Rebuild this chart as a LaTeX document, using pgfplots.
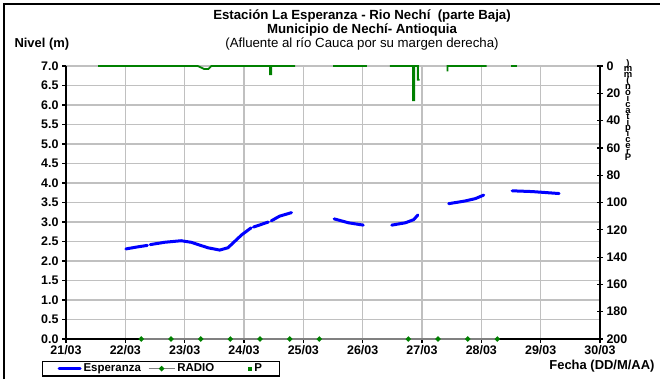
\documentclass[border=0pt]{standalone}
\usepackage{pgfplots}
\pgfplotsset{compat=1.18}
\usepackage{fontspec}
\setmainfont{Liberation Sans}
\definecolor{pgreen}{RGB}{0,128,0}
\definecolor{gridgray}{RGB}{192,192,192}
\definecolor{radiogray}{RGB}{128,128,128}
\definecolor{eblue}{RGB}{0,0,255}
\newcommand\stl[1]{\hbox to 10bp{\hss#1\hss}}
\begin{document}
\begin{tikzpicture}[x=1bp,y=1bp]
\path[use as bounding box] (0,0) rectangle (660,379);
\draw[line width=2bp] (4,0) -- (4,375) -- (660,375);
% titles
\node[font=\bfseries\fontsize{13.3}{14}\selectfont] at (362,363) {Estación La Esperanza - Rio Nechí\ \ (parte Baja)};
\node[font=\bfseries\fontsize{13.3}{14}\selectfont] at (362,349) {Municipio de Nechí- Antioquia};
\node[font=\fontsize{13.3}{14}\selectfont] at (362,335) {(Afluente al río Cauca por su margen derecha)};
\node[font=\bfseries\fontsize{13}{14}\selectfont, anchor=west] at (11,335) {Nivel (m)};
\node[font=\bfseries\fontsize{13}{14}\selectfont, anchor=east] at (658,13) {Fecha (DD/M/AA)};
\node[anchor=north, font=\bfseries\fontsize{9.5}{6}\selectfont, inner sep=0] at (628,320) {\vbox{\baselineskip=5.9bp\lineskiplimit=-100bp\lineskip=0bp
\stl{)}\stl{m}\stl{m}\stl{(}\stl{n}\stl{ó}\stl{i}\stl{c}\stl{a}\stl{t}\stl{i}\stl{p}\stl{i}\stl{c}\stl{e}\stl{r}\stl{P}}};

\begin{axis}[
  at={(66bp,40bp)}, anchor=south west,
  width=534bp, height=273bp, scale only axis,
  xmin=21, xmax=30, ymin=0, ymax=7,
  clip=false,
  axis x line*=bottom, axis y line*=left,
  axis line style={line width=1.3bp, black},
  xtick={21,22,...,30},
  xticklabels={21/03,22/03,23/03,24/03,25/03,26/03,27/03,28/03,29/03,30/03},
  ytick={0,0.5,...,7},
  grid=major, major grid style={gridgray, line width=1.3bp},
  tick align=outside, major tick length=4bp,
  tick style={black, line width=1.2bp},
  tick label style={font=\bfseries\fontsize{12.5}{13}\selectfont},
  xticklabel style={yshift=1bp},
  yticklabel style={/pgf/number format/fixed, /pgf/number format/fixed zerofill, /pgf/number format/precision=1},
  /pgf/number format/assume math mode=true,
  unbounded coords=jump,
  legend columns=3,
  legend cell align=left,
  legend style={at={(rel axis cs:-0.045,-0.08)}, anchor=north west, draw=black, line width=1.2bp,
    font=\bfseries\fontsize{11.5}{12}\selectfont, inner xsep=15bp, inner ysep=0.5bp,
    /tikz/column 2/.style={column sep=5bp},
    /tikz/column 4/.style={column sep=32bp}},
]
\addplot[eblue, line width=3bp, line cap=round, legend image code/.code={\draw[eblue, line width=3bp] (0bp,0bp) -- (21bp,0bp);}] coordinates {
(22.01,2.31)(22.20,2.36)(22.37,2.40) (22.39,nan) (22.42,2.42)(22.66,2.48)(22.94,2.52)(23.11,2.48)(23.39,2.34)(23.59,2.28)(23.73,2.34)(23.96,2.67)(24.12,2.85) (24.13,nan) (24.16,2.87)(24.41,3.00) (24.43,nan) (24.46,3.03)(24.60,3.15)(24.80,3.24)
(25.1,nan)
(25.52,3.08)(25.76,2.98)(26.01,2.92)
(26.2,nan)
(26.49,2.92)(26.72,2.98)(26.86,3.06)(26.93,3.18)
(27.2,nan)
(27.45,3.47)(27.73,3.54)(27.90,3.60)(28.04,3.69)
(28.3,nan)
(28.52,3.80)(28.86,3.78)(29.31,3.73)
};
\addlegendentry{Esperanza}
\addplot[radiogray, line width=1.5bp, mark=*, mark size=1.8bp, mark options={pgreen, draw=pgreen, fill=pgreen}, legend image code/.code={\draw[radiogray, line width=1.5bp] (0bp,0bp) -- (26bp,0bp); \fill[pgreen] (13bp,0bp) circle (1.8bp);}] coordinates {
(22.27,0)(22.77,0)(23.27,0)(23.77,0)(24.27,0)(24.77,0)(25.27,0)(26.77,0)(27.27,0)(27.77,0)(28.27,0)
};
\addlegendentry{RADIO}
\addlegendimage{only marks, mark=square*, mark size=1.5bp, pgreen, legend image code/.code={\fill[pgreen] (6bp,-1.5bp) rectangle (9bp,1.5bp);}}
\addlegendentry{P}
\end{axis}

\begin{axis}[
  at={(66bp,40bp)}, anchor=south west,
  width=534bp, height=273bp, scale only axis,
  xmin=21, xmax=30, ymin=0, ymax=200, y dir=reverse,
  clip=false,
  axis x line=none, axis y line*=right,
  axis line style={line width=1.3bp, black},
  ytick={0,20,...,200},
  tick align=center, major tick length=6bp,
  tick style={black, line width=1.2bp},
  tick label style={font=\bfseries\fontsize{12.5}{13}\selectfont},
  /pgf/number format/assume math mode=true,
  unbounded coords=jump,
]
\addplot[pgreen, line width=1.8bp] coordinates {
(21.54,0)(23.22,0)(23.33,2.2)(23.40,2.2)(23.45,0)(24.44,0)(24.44,6)(24.46,6)(24.46,0)(24.86,0)
(25.2,nan)
(25.50,0)(26.07,0)
(26.3,nan)
(26.46,0)(26.85,0)(26.85,25)(26.87,25)(26.87,0)(26.93,0)(26.93,10)(26.96,10)
(27.2,nan)
(27.43,4)(27.43,0)(28.09,0)
(28.3,nan)
(28.50,0)(28.60,0)
};
\end{axis}
\end{tikzpicture}
\end{document}
